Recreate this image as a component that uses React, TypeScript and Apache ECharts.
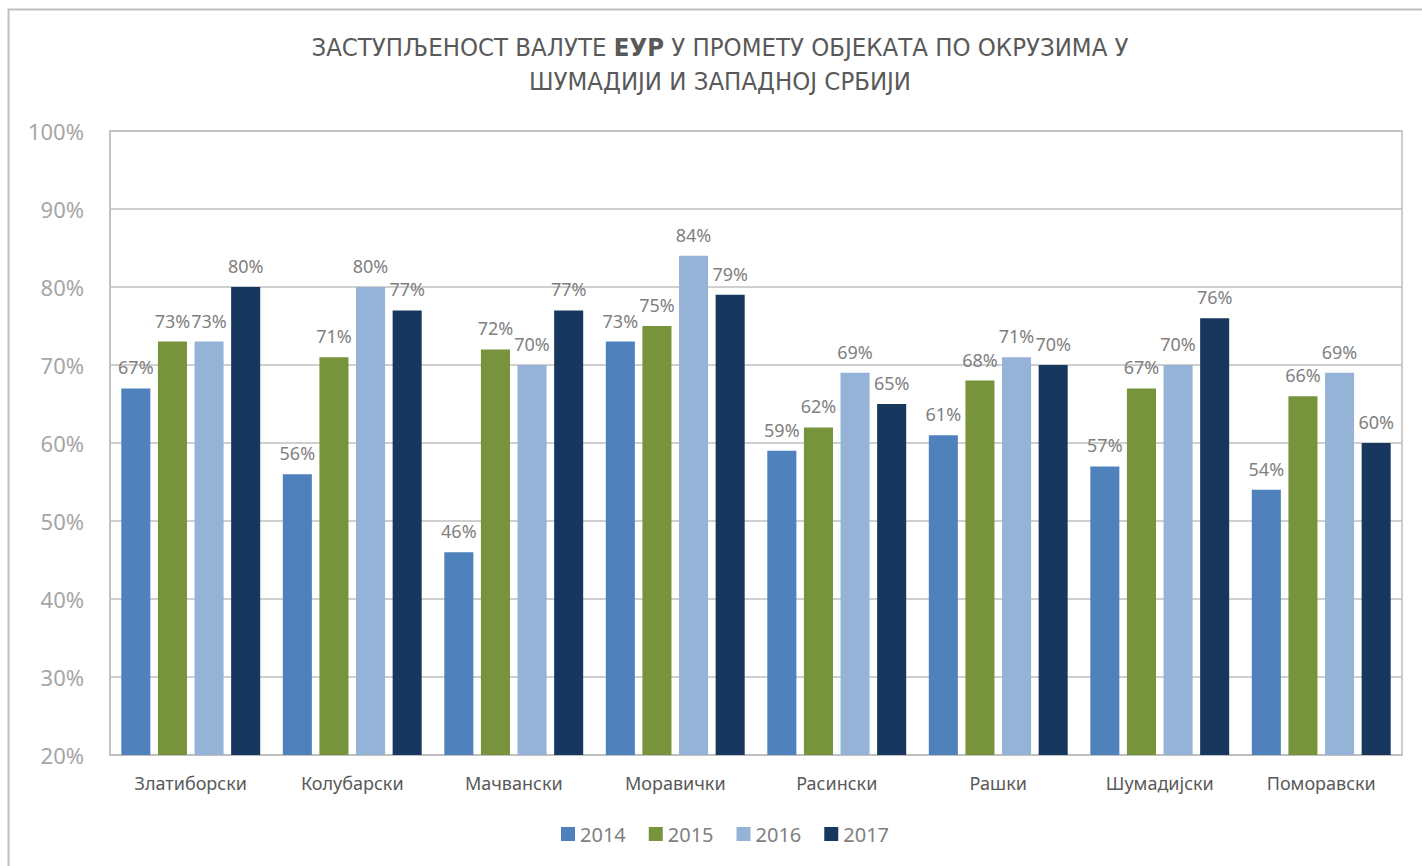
import React, { useEffect, useRef } from "react";
import * as echarts from "echarts";

const categories = ["Златиборски", "Колубарски", "Мачвански", "Моравички", "Расински", "Рашки", "Шумадијски", "Поморавски"];
const years = ["2014", "2015", "2016", "2017"];
const values2014 = [67, 56, 46, 73, 59, 61, 57, 54];
const values2015 = [73, 71, 72, 75, 62, 68, 67, 66];
const values2016 = [73, 80, 70, 84, 69, 71, 70, 69];
const values2017 = [80, 77, 77, 79, 65, 70, 76, 60];
const colors = ["#4f81bd", "#77933c", "#95b3d7", "#17375e"];

const FONT = "'Noto Sans', 'DejaVu Sans', sans-serif";
const TITLE_FONT = "'Liberation Sans Narrow', 'DejaVu Sans Condensed', 'Noto Sans', sans-serif";

export default function App() {
  const ref = useRef<HTMLDivElement>(null);
  useEffect(() => {
    if (!ref.current) return;
    const chart = echarts.init(ref.current, null, { renderer: "svg" });
    const seriesData = [values2014, values2015, values2016, values2017];
    chart.setOption({
      animation: false,
      backgroundColor: "#ffffff",
      color: colors,
      title: {
        text: "{a|ЗАСТУПЉЕНОСТ ВАЛУТЕ }{b|ЕУР}{a| У ПРОМЕТУ ОБЈЕКАТА ПО ОКРУЗИМА У}\n{a|ШУМАДИЈИ И ЗАПАДНОЈ СРБИЈИ}",
        left: 715,
        textAlign: "center",
        top: 25,
        textStyle: {
          fontWeight: "normal",
          rich: {
            a: { fontFamily: TITLE_FONT, fontSize: 25.5, color: "#595959", fontWeight: "normal", lineHeight: 34 },
            b: { fontFamily: TITLE_FONT, fontSize: 25.5, color: "#595959", fontWeight: "bold", lineHeight: 34 },
          },
        },
      },
      graphic: [
        {
          type: "rect",
          shape: { x: 8.5, y: 9.5, width: 1500, height: 1000 },
          style: { fill: "none", stroke: "#bfbfbf", lineWidth: 2 },
          silent: true,
        },
      ],
      legend: {
        data: years,
        bottom: 17,
        left: 556,
        icon: "rect",
        itemWidth: 14,
        itemHeight: 14,
        itemGap: 23,
        textStyle: { fontFamily: FONT, fontSize: 20, color: "#7f7f7f" },
      },
      grid: {
        left: 110,
        right: 20,
        top: 131,
        bottom: 111,
        show: true,
        borderColor: "#bfbfbf",
        borderWidth: 1.5,
      },
      xAxis: {
        type: "category",
        data: categories,
        axisLine: { show: true, lineStyle: { color: "#bfbfbf", width: 1.5 } },
        axisTick: { show: false },
        axisLabel: { fontFamily: FONT, fontSize: 18, color: "#595959", margin: 19 },
      },
      yAxis: {
        type: "value",
        min: 20,
        max: 100,
        interval: 10,
        axisLine: { show: true, lineStyle: { color: "#bfbfbf", width: 1.5 } },
        axisTick: { show: false },
        splitLine: { lineStyle: { color: "#bfbfbf", width: 1.5 } },
        axisLabel: { formatter: "{value}%", fontFamily: FONT, fontSize: 22, color: "#a6a6a6", margin: 26 },
      },
      series: years.map((y, i) => ({
        name: y,
        type: "bar",
        data: seriesData[i],
        barGap: "26%",
        barCategoryGap: "14%",
        itemStyle: { color: colors[i] },
        label: {
          show: true,
          position: "top",
          distance: 12,
          formatter: "{c}%",
          fontFamily: FONT,
          fontSize: 18,
          color: "#7f7f7f",
        },
      })),
    });
    return () => chart.dispose();
  }, []);
  return <div ref={ref} style={{ position: "fixed", left: 0, top: 0, width: 1422, height: 866 }} />;
}
